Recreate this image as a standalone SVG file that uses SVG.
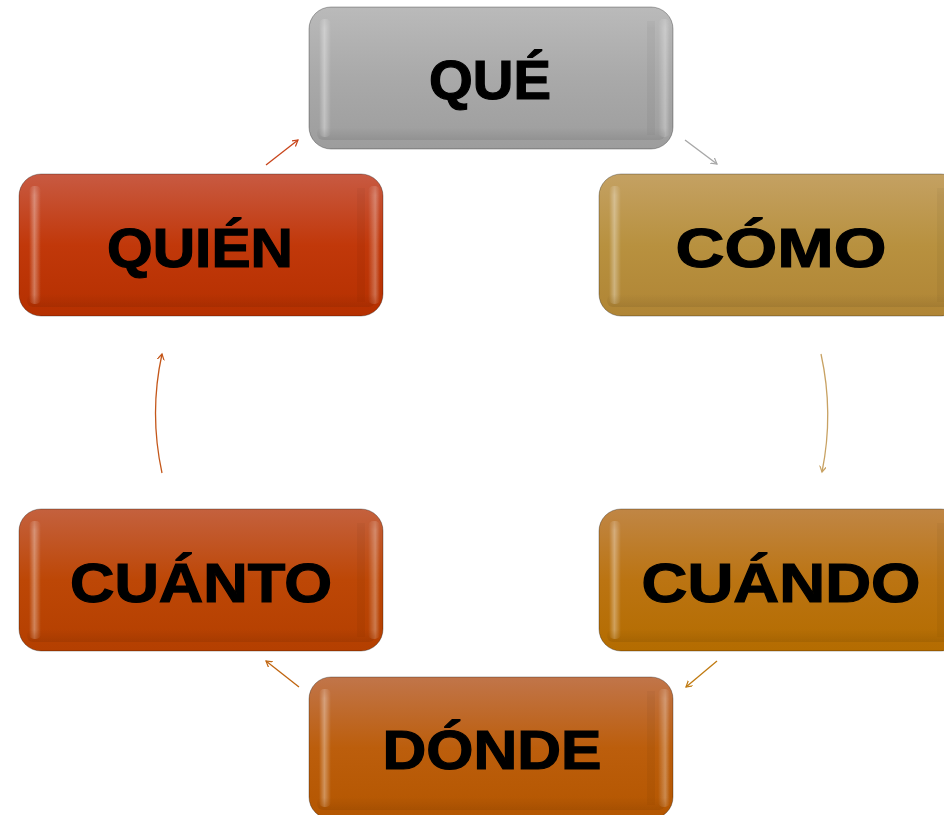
<svg xmlns="http://www.w3.org/2000/svg" xmlns:xlink="http://www.w3.org/1999/xlink" width="944" height="815" viewBox="0 0 944 815">
<style>
.lbl{font-family:"Liberation Sans",Arial,sans-serif;font-weight:bold;font-size:56px;fill:#000;stroke:#000;stroke-width:1.2;text-anchor:middle}
.base{stroke:#000;stroke-opacity:0.3;stroke-width:1}
.conn{fill:none;stroke-width:1.3}
</style>
<defs>
<linearGradient id="gGray" x1="0" y1="0" x2="0" y2="1"><stop offset="0" stop-color="#bababa"/><stop offset="0.5" stop-color="#a9a9a9"/><stop offset="1" stop-color="#9d9d9d"/></linearGradient>
<linearGradient id="gGold" x1="0" y1="0" x2="0" y2="1"><stop offset="0" stop-color="#c4a163"/><stop offset="0.5" stop-color="#b8913f"/><stop offset="1" stop-color="#b08535"/></linearGradient>
<linearGradient id="gAmber" x1="0" y1="0" x2="0" y2="1"><stop offset="0" stop-color="#c08645"/><stop offset="0.5" stop-color="#bb7412"/><stop offset="1" stop-color="#b46c00"/></linearGradient>
<linearGradient id="gCopper" x1="0" y1="0" x2="0" y2="1"><stop offset="0" stop-color="#c1754a"/><stop offset="0.5" stop-color="#bc5e0c"/><stop offset="1" stop-color="#b45600"/></linearGradient>
<linearGradient id="gRust" x1="0" y1="0" x2="0" y2="1"><stop offset="0" stop-color="#c4613e"/><stop offset="0.5" stop-color="#bd4706"/><stop offset="1" stop-color="#b43f00"/></linearGradient>
<linearGradient id="gRed" x1="0" y1="0" x2="0" y2="1"><stop offset="0" stop-color="#c85a42"/><stop offset="0.5" stop-color="#c1380a"/><stop offset="1" stop-color="#b53000"/></linearGradient>
<linearGradient id="hlL" x1="0" y1="0" x2="1" y2="0"><stop offset="0" stop-color="#fff" stop-opacity="0"/><stop offset="0.45" stop-color="#fff" stop-opacity="0.35"/><stop offset="1" stop-color="#fff" stop-opacity="0"/></linearGradient>
<linearGradient id="hlR" x1="0" y1="0" x2="1" y2="0"><stop offset="0" stop-color="#fff" stop-opacity="0"/><stop offset="0.6" stop-color="#fff" stop-opacity="0.3"/><stop offset="1" stop-color="#fff" stop-opacity="0"/></linearGradient>
<linearGradient id="shB" x1="0" y1="0" x2="0" y2="1"><stop offset="0" stop-color="#000" stop-opacity="0"/><stop offset="1" stop-color="#000" stop-opacity="0.08"/></linearGradient>
<linearGradient id="hlV" x1="0" y1="0" x2="0" y2="1"><stop offset="0" stop-color="#fff" stop-opacity="0"/><stop offset="0.15" stop-color="#fff" stop-opacity="1"/><stop offset="0.85" stop-color="#fff" stop-opacity="1"/><stop offset="1" stop-color="#fff" stop-opacity="0"/></linearGradient>
<mask id="mV"><rect x="0" y="0" width="364" height="142" fill="url(#hlV)"/></mask>
<g id="bevel">
<rect x="8" y="120" width="348" height="13" rx="6" fill="url(#shB)"/>
<g mask="url(#mV)">
<rect x="10" y="12" width="12" height="118" rx="5" fill="url(#hlL)"/>
<rect x="338" y="14" width="8" height="114" fill="#000" fill-opacity="0.04"/>
<rect x="349" y="12" width="12" height="118" rx="5" fill="url(#hlR)"/>
</g>
</g>
<marker id="aGray" markerWidth="8" markerHeight="8" refX="6" refY="3.5" orient="auto" markerUnits="userSpaceOnUse"><path d="M0,0 L6,3.5 L0,7" fill="none" stroke="#a6a6a6" stroke-width="1.2"/></marker>
<marker id="aGold" markerWidth="8" markerHeight="8" refX="6" refY="3.5" orient="auto" markerUnits="userSpaceOnUse"><path d="M0,0 L6,3.5 L0,7" fill="none" stroke="#c8a263" stroke-width="1.2"/></marker>
<marker id="aAmber" markerWidth="8" markerHeight="8" refX="6" refY="3.5" orient="auto" markerUnits="userSpaceOnUse"><path d="M0,0 L6,3.5 L0,7" fill="none" stroke="#c07a10" stroke-width="1.2"/></marker>
<marker id="aCopper" markerWidth="8" markerHeight="8" refX="6" refY="3.5" orient="auto" markerUnits="userSpaceOnUse"><path d="M0,0 L6,3.5 L0,7" fill="none" stroke="#c0640e" stroke-width="1.2"/></marker>
<marker id="aRust" markerWidth="8" markerHeight="8" refX="6" refY="3.5" orient="auto" markerUnits="userSpaceOnUse"><path d="M0,0 L6,3.5 L0,7" fill="none" stroke="#c4571a" stroke-width="1.2"/></marker>
<marker id="aRed" markerWidth="8" markerHeight="8" refX="6" refY="3.5" orient="auto" markerUnits="userSpaceOnUse"><path d="M0,0 L6,3.5 L0,7" fill="none" stroke="#c8441a" stroke-width="1.2"/></marker>
</defs>
<rect width="944" height="815" fill="#fff"/>
<g id="connectors">
<path class="conn" d="M685,140 L717,164" stroke="#a6a6a6" marker-end="url(#aGray)"/>
<path class="conn" d="M821,354 Q834,413 822,472" stroke="#c8a263" marker-end="url(#aGold)"/>
<path class="conn" d="M717,661 L686,687" stroke="#c07a10" marker-end="url(#aAmber)"/>
<path class="conn" d="M299,687 L266,661" stroke="#c0640e" marker-end="url(#aCopper)"/>
<path class="conn" d="M162,473 Q149,413 162,354" stroke="#c4571a" marker-end="url(#aRust)"/>
<path class="conn" d="M266,165 L298,140" stroke="#c8441a" marker-end="url(#aRed)"/>
</g>
<g id="node-que" transform="translate(309,7)">
<rect class="base" width="364" height="142" rx="22" fill="url(#gGray)"/>
<use href="#bevel"/>
<text class="lbl" x="181" y="92" textLength="122" lengthAdjust="spacingAndGlyphs">QUÉ</text>
</g>
<g id="node-como" transform="translate(599,174)">
<rect class="base" width="364" height="142" rx="22" fill="url(#gGold)"/>
<use href="#bevel"/>
<text class="lbl" x="182" y="93" textLength="211" lengthAdjust="spacingAndGlyphs">CÓMO</text>
</g>
<g id="node-cuando" transform="translate(599,509)">
<rect class="base" width="364" height="142" rx="22" fill="url(#gAmber)"/>
<use href="#bevel"/>
<text class="lbl" x="182" y="93" textLength="279" lengthAdjust="spacingAndGlyphs">CUÁNDO</text>
</g>
<g id="node-donde" transform="translate(309,677)">
<rect class="base" width="364" height="142" rx="22" fill="url(#gCopper)"/>
<use href="#bevel"/>
<text class="lbl" x="183" y="92" textLength="219" lengthAdjust="spacingAndGlyphs">DÓNDE</text>
</g>
<g id="node-cuanto" transform="translate(19,509)">
<rect class="base" width="364" height="142" rx="22" fill="url(#gRust)"/>
<use href="#bevel"/>
<text class="lbl" x="182" y="93" textLength="262" lengthAdjust="spacingAndGlyphs">CUÁNTO</text>
</g>
<g id="node-quien" transform="translate(19,174)">
<rect class="base" width="364" height="142" rx="22" fill="url(#gRed)"/>
<use href="#bevel"/>
<text class="lbl" x="181" y="93" textLength="186" lengthAdjust="spacingAndGlyphs">QUIÉN</text>
</g>
</svg>
